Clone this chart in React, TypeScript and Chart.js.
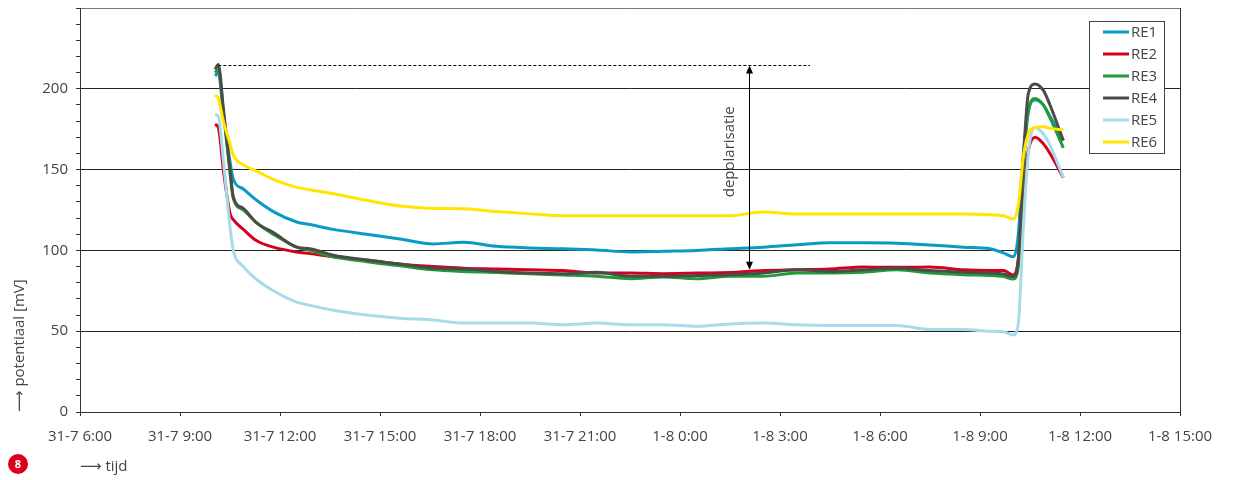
import React, { useEffect, useRef } from "react";
import { Chart, registerables } from "chart.js";

Chart.register(...registerables);

// Time in hours since 31-7 0:00
const TIMES = [10.05, 10.15, 10.3, 10.5, 10.6, 10.9, 11.3, 11.8, 12.5, 12.9, 13.6, 14.6, 15.6, 16.6, 17.5, 18.5, 19.5, 20.5, 21.5, 22.5, 23.5, 24.5, 25.5, 26.5, 27.5, 28.5, 29.5, 30.5, 31.5, 32.5, 33.3, 33.7, 34.0, 34.15, 34.3, 34.45, 34.65, 34.9, 35.1, 35.5];

const RE1 = [208, 210, 185, 155, 144, 138, 131, 124, 117.6, 116, 113, 110, 107, 104, 105, 102.5, 101.5, 101, 100.3, 99, 99.5, 100, 101, 102, 103.5, 104.8, 104.8, 104.5, 103.4, 102, 101, 98.5, 96, 110, 160, 186, 193, 190, 183, 168];
const RE2 = [178, 176, 150, 123, 119, 113, 106, 102, 99, 98, 96, 94, 91.5, 90, 89, 88.5, 88, 87.5, 86, 86, 85.6, 86, 86.3, 87.5, 88, 88.5, 89.8, 89.5, 89.8, 88, 87.5, 87.5, 84.8, 95, 140, 162, 170, 166, 160, 145];
const RE3 = [210, 212, 186, 148, 132, 125, 117, 110, 102, 100, 96, 93, 90.5, 88, 87, 86.3, 85.5, 84.8, 84, 82.5, 83.6, 82.5, 84, 84, 86, 86, 86.5, 88, 86, 85, 84.5, 83.8, 82.3, 90, 150, 186, 194, 190, 182, 163.5];
const RE4 = [212, 215, 188, 150, 133, 126, 117, 111, 102, 101, 97, 94, 91.6, 89, 88.5, 87, 86, 85.6, 86.5, 84, 84, 84.5, 85, 86, 88, 87, 88, 89, 87.5, 86.5, 86, 85.4, 83.8, 94, 156, 197, 203, 199, 190, 168];
const RE5 = [184, 183, 156, 114.5, 100, 90, 82, 75, 68, 66, 63, 60, 58, 57, 55, 55, 55, 54, 55, 54, 54, 53, 54.5, 55, 54, 53.5, 53.5, 53.5, 51, 51, 50, 49.7, 47.7, 55, 114, 160, 176, 172, 165, 145];
const RE6 = [196, 194, 180, 166, 159, 153, 149, 144, 139, 137.5, 135, 131, 127.5, 126, 125.7, 124, 122.6, 121.4, 121.4, 121.4, 121.4, 121.4, 121.4, 123.8, 122.6, 122.6, 122.6, 122.6, 122.6, 122.6, 122, 121.4, 119.5, 128, 158, 172, 176, 176.5, 175.5, 174.6];

const SERIES_NAMES = ["RE1", "RE2", "RE3", "RE4", "RE5", "RE6"];
const SERIES_VALUES = [RE1, RE2, RE3, RE4, RE5, RE6];
const SERIES_COLORS = ["#0a9ac6", "#d4001f", "#229a38", "#4b4b48", "#a6dbe9", "#ffe500"];

const X_MIN = 6;
const X_MAX = 39;
const Y_MAX = 250;
const Y_LABELS = [0, 50, 100, 150, 200];

// annotation values
const DEPOL_TOP = 215;
const DEPOL_BOTTOM = 88;
const DEPOL_LINE_START = 10.15;
const DEPOL_LINE_END = 27.9;
const DEPOL_ARROW_X = 26.07;
const DEPOL_LABEL_X = 25.5;
const DEPOL_LABEL_Y = 161;

const FONT = '"Open Sans", "DejaVu Sans", sans-serif';
const TEXT = "#444";
const AXIS = "#333";

function fmtTime(v: number) {
  const h = Math.round(v);
  return h < 24 ? `31-7 ${h}:00` : `1-8 ${h - 24}:00`;
}

const extrasPlugin = {
  id: "extras",
  afterDraw(chart: any) {
    const ctx = chart.ctx;
    const xs = chart.scales.x;
    const ys = chart.scales.y;
    ctx.save();

    // dashed depolarisation line
    const yTop = Math.round(ys.getPixelForValue(DEPOL_TOP)) + 0.5;
    ctx.strokeStyle = "#000";
    ctx.lineWidth = 1;
    ctx.setLineDash([3, 2]);
    ctx.beginPath();
    ctx.moveTo(xs.getPixelForValue(DEPOL_LINE_START), yTop);
    ctx.lineTo(xs.getPixelForValue(DEPOL_LINE_END), yTop);
    ctx.stroke();
    ctx.setLineDash([]);

    // double arrow
    const ax = Math.round(xs.getPixelForValue(DEPOL_ARROW_X)) + 0.5;
    const yBot = ys.getPixelForValue(DEPOL_BOTTOM);
    ctx.beginPath();
    ctx.moveTo(ax, yTop + 6);
    ctx.lineTo(ax, yBot - 6);
    ctx.stroke();
    ctx.fillStyle = "#000";
    ctx.beginPath();
    ctx.moveTo(ax, yTop);
    ctx.lineTo(ax - 3.5, yTop + 8);
    ctx.lineTo(ax + 3.5, yTop + 8);
    ctx.closePath();
    ctx.fill();
    ctx.beginPath();
    ctx.moveTo(ax, yBot);
    ctx.lineTo(ax - 3.5, yBot - 8);
    ctx.lineTo(ax + 3.5, yBot - 8);
    ctx.closePath();
    ctx.fill();

    // label
    ctx.save();
    ctx.translate(xs.getPixelForValue(DEPOL_LABEL_X), ys.getPixelForValue(DEPOL_LABEL_Y));
    ctx.rotate(-Math.PI / 2);
    ctx.fillStyle = TEXT;
    ctx.font = `15px ${FONT}`;
    ctx.textAlign = "center";
    ctx.textBaseline = "middle";
    ctx.fillText("depolarisatie", 0, 0);
    ctx.restore();

    // legend
    const lx = 1089, ly = 21, lw = 75, lh = 132;
    ctx.fillStyle = "#fff";
    ctx.fillRect(lx, ly, lw, lh);
    ctx.strokeStyle = "#444";
    ctx.lineWidth = 1;
    ctx.strokeRect(lx + 0.5, ly + 0.5, lw, lh);
    ctx.font = `15px ${FONT}`;
    ctx.textBaseline = "middle";
    ctx.textAlign = "left";
    SERIES_NAMES.forEach((name, i) => {
      const yy = 32 + i * 22;
      ctx.strokeStyle = SERIES_COLORS[i];
      ctx.lineWidth = 3;
      ctx.beginPath();
      ctx.moveTo(1103, yy);
      ctx.lineTo(1129, yy);
      ctx.stroke();
      ctx.fillStyle = TEXT;
      ctx.fillText(name, 1131, yy + 1);
    });

    // badge
    ctx.fillStyle = "#d7001d";
    ctx.beginPath();
    ctx.arc(18, 464, 10, 0, Math.PI * 2);
    ctx.fill();
    ctx.fillStyle = "#fff";
    ctx.font = `bold 11px ${FONT}`;
    ctx.textAlign = "center";
    ctx.textBaseline = "middle";
    ctx.fillText("8", 18, 465);

    ctx.restore();
  },
};

export default function App() {
  const ref = useRef<HTMLCanvasElement | null>(null);

  useEffect(() => {
    if (!ref.current) return;
    const datasets = SERIES_NAMES.map((name, i) => ({
      label: name,
      data: TIMES.map((t, j) => ({ x: t, y: SERIES_VALUES[i][j] })),
      borderColor: SERIES_COLORS[i],
      backgroundColor: SERIES_COLORS[i],
      borderWidth: 3,
      pointRadius: 0,
      tension: 0.4,
      cubicInterpolationMode: "monotone" as const,
      fill: false,
      order: SERIES_NAMES.length - i,
    }));

    const chart = new Chart(ref.current, {
      type: "line",
      data: { datasets },
      options: {
        animation: false,
        responsive: false,
        devicePixelRatio: 1,
        layout: { padding: { top: 8, right: 59, left: 0, bottom: 0 } },
        plugins: {
          legend: { display: false },
          tooltip: { enabled: false },
        },
        scales: {
          x: {
            type: "linear",
            min: X_MIN,
            max: X_MAX,
            afterFit: (s: any) => {
              s.height = 68;
              s.paddingLeft = 0;
              s.paddingRight = 0;
            },
            ticks: {
              stepSize: 3,
              autoSkip: false,
              maxRotation: 0,
              color: TEXT,
              font: { family: FONT, size: 15 },
              padding: 12,
              callback: (v: any) => fmtTime(Number(v)),
            },
            grid: {
              color: (c: any) => (c.tick && c.tick.value === X_MAX ? AXIS : "rgba(0,0,0,0)"),
              tickColor: AXIS,
              tickLength: 4,
              drawTicks: true,
            },
            border: { color: AXIS, width: 1 },
            title: {
              display: true,
              text: "⟶ tijd",
              align: "start",
              color: TEXT,
              font: { family: FONT, size: 15 },
              padding: { top: 0, bottom: 4 },
            },
          },
          y: {
            type: "linear",
            min: 0,
            max: Y_MAX,
            afterFit: (s: any) => {
              s.width = 80;
              s.paddingTop = 0;
              s.paddingBottom = 0;
            },
            ticks: {
              stepSize: 10,
              autoSkip: false,
              color: TEXT,
              font: { family: FONT, size: 15 },
              padding: 8,
              callback: (v: any) => (Y_LABELS.includes(Number(v)) ? String(v) : ""),
            },
            grid: {
              color: (c: any) => {
                const v = c.tick ? c.tick.value : -1;
                if (v === Y_MAX) return "#777";
                return v % 50 === 0 ? "#222" : "rgba(0,0,0,0)";
              },
              tickColor: AXIS,
              tickLength: 4,
              drawTicks: true,
            },
            border: { color: AXIS, width: 1 },
            title: {
              display: true,
              text: "⟶ potentiaal [mV]",
              align: "start",
              color: TEXT,
              font: { family: FONT, size: 15 },
              padding: { top: 11, bottom: 0 },
            },
          },
        },
      },
      plugins: [extrasPlugin],
    });
    return () => chart.destroy();
  }, []);

  return (
    <div style={{ position: "absolute", left: 0, top: 0, width: 1239, height: 480, background: "#fff" }}>
      <canvas ref={ref} width={1239} height={480} style={{ display: "block", width: 1239, height: 480 }} />
    </div>
  );
}
